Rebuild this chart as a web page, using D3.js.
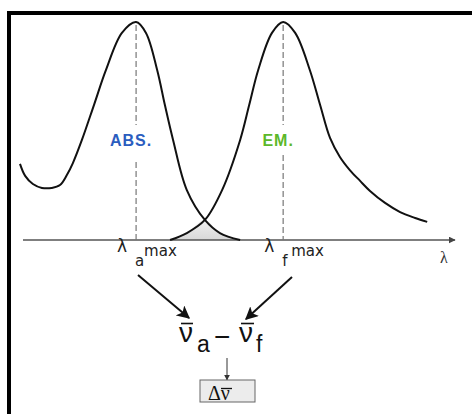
<!DOCTYPE html>
<html><head><meta charset="utf-8">
<script src="https://cdn.jsdelivr.net/npm/d3@7"></script>
<style>body{margin:0;background:#fff}svg{display:block}</style>
</head><body>
<script>
// Absorption spectrum (relative wavelength units, relative intensity)
const absLambda = [-0.7, 0.5, 2.3, 4.4, 6.7, 8.6, 10.2, 11.6, 13.7, 16.5, 19.3, 23.0, 26.3, 28.6, 31.2, 33.0, 34.9, 38.1, 42.3, 45.8, 50.5];
const absI      = [0.349, 0.294, 0.257, 0.239, 0.239, 0.252, 0.298, 0.353, 0.459, 0.619, 0.780, 0.950, 1.0, 0.950, 0.780, 0.619, 0.459, 0.229, 0.092, 0.032, 0.0];
// Emission spectrum
const emLambda = [34.2, 38.1, 42.3, 46.3, 50.5, 52.6, 54.7, 57.9, 60.5, 63.3, 66.7, 69.1, 71.4, 73.7, 76.0, 78.4, 80.7, 84.2, 87.7, 91.2, 94.0];
const emI      = [0.0, 0.032, 0.092, 0.229, 0.459, 0.619, 0.780, 0.950, 1.0, 0.950, 0.780, 0.619, 0.468, 0.381, 0.321, 0.271, 0.225, 0.170, 0.128, 0.101, 0.083];
// Peak positions and their labels
const peakLambda = [26.3, 60.5];
const peakSub = ["a", "f"];
const peakNames = ["ABS.", "EM."];
const peakColors = ["#2b5dbf", "#5cb82a"];

const W = 472, H = 414;
const svg = d3.select("body").append("svg").attr("width", W).attr("height", H);
const x = d3.scaleLinear().domain([0, 100]).range([23, 453]);
const y = d3.scaleLinear().domain([0, 1]).range([240, 22]);

svg.append("defs").html(
  '<marker id="ah" viewBox="0 0 10 10" refX="9" refY="5" markerWidth="7" markerHeight="7" markerUnits="userSpaceOnUse" orient="auto"><path d="M0,0L10,5L0,10z" fill="#444"/></marker>' +
  '<marker id="ab" viewBox="0 0 10 10" refX="9" refY="5" markerWidth="13" markerHeight="13" markerUnits="userSpaceOnUse" orient="auto"><path d="M0,0L10,5L0,10L2.5,5z" fill="#111"/></marker>' +
  '<marker id="as" viewBox="0 0 10 10" refX="9" refY="5" markerWidth="6" markerHeight="6" markerUnits="userSpaceOnUse" orient="auto"><path d="M0,0L10,5L0,10z" fill="#333"/></marker>' +
  '<linearGradient id="ov" x1="0" y1="0" x2="0" y2="1"><stop offset="0" stop-color="#f0f0f0"/><stop offset="1" stop-color="#d8d8d8"/></linearGradient>'
);

// frame
svg.append("rect").attr("x", 9).attr("y", 13).attr("width", 600).attr("height", 600)
  .attr("fill", "none").attr("stroke", "#000").attr("stroke-width", 4);

const absPts = absLambda.map((l, i) => [l, absI[i]]);
const emPts = emLambda.map((l, i) => [l, emI[i]]);

// overlap area: emission rising part up to crossing, then absorption falling part
const cross = 42.3;
const ovPts = emPts.filter(p => p[0] <= cross).concat(absPts.filter(p => p[0] > cross));
svg.append("path").datum(ovPts)
  .attr("d", d3.area().x(d => x(d[0])).y0(y(0)).y1(d => y(d[1])).curve(d3.curveCatmullRom))
  .attr("fill", "url(#ov)");

// axis
const axis = svg.append("g").attr("transform", `translate(0,${y(0)})`)
  .call(d3.axisBottom(x).tickValues([]).tickSizeOuter(0));
axis.select(".domain").attr("stroke", "#555").attr("stroke-width", 1.5)
  .attr("d", `M${x(0)},0H${x(100) + 2}`).attr("marker-end", "url(#ah)");

// dashed peak lines
const gaps = [[125, 162], [125, 155]];
peakLambda.forEach((p, i) => {
  [[y(1) + 3, gaps[i][0]], [gaps[i][1], y(0)]].forEach(seg => {
    svg.append("line").attr("x1", x(p)).attr("x2", x(p)).attr("y1", seg[0]).attr("y2", seg[1])
      .attr("stroke", "#777").attr("stroke-width", 1.2).attr("stroke-dasharray", "6,3");
  });
  svg.append("text").attr("x", x(p) - 5).attr("y", 146).attr("text-anchor", "middle")
    .attr("font-family", "Liberation Sans, Arial, sans-serif").attr("font-weight", "bold")
    .attr("font-size", 16).attr("letter-spacing", 1).attr("fill", peakColors[i]).text(peakNames[i]);
  // tick label lambda_sub^max
  const t = svg.append("text").attr("font-family", "DejaVu Sans, sans-serif").attr("fill", "#222");
  t.append("tspan").attr("x", x(p) - 19).attr("y", 252).attr("font-size", 17).text("λ");
  t.append("tspan").attr("x", x(p) - 1).attr("y", 266).attr("font-size", 15).text(peakSub[i]);
  t.append("tspan").attr("x", x(p) + 8).attr("y", 256).attr("font-size", 15).text("max");
});

// curves
const line = d3.line().x(d => x(d[0])).y(d => y(d[1])).curve(d3.curveCatmullRom);
[absPts, emPts].forEach(pts => {
  svg.append("path").datum(pts).attr("d", line).attr("fill", "none")
    .attr("stroke", "#111").attr("stroke-width", 2);
});

// lambda axis label
svg.append("text").attr("x", 440).attr("y", 263).attr("font-family", "Liberation Serif, serif")
  .attr("font-size", 16).attr("fill", "#333").text("λ");

// arrows to formula
svg.append("line").attr("x1", 138).attr("y1", 275).attr("x2", 189).attr("y2", 318)
  .attr("stroke", "#111").attr("stroke-width", 2).attr("marker-end", "url(#ab)");
svg.append("line").attr("x1", 292).attr("y1", 277).attr("x2", 246).attr("y2", 319)
  .attr("stroke", "#111").attr("stroke-width", 2).attr("marker-end", "url(#ab)");

// formula
const ff = "Liberation Sans, Arial, sans-serif";
const fg = svg.append("g").attr("font-family", ff).attr("fill", "#111");
fg.append("text").attr("x", 179).attr("y", 342).attr("font-size", 28).text("ν");
fg.append("text").attr("x", 197).attr("y", 352).attr("font-size", 23).text("a");
fg.append("text").attr("x", 214).attr("y", 346).attr("font-size", 28).text("−");
fg.append("text").attr("x", 239).attr("y", 342).attr("font-size", 28).text("ν");
fg.append("text").attr("x", 256).attr("y", 352).attr("font-size", 23).text("f");
[[181, 193], [241, 254]].forEach(b => {
  fg.append("line").attr("x1", b[0]).attr("x2", b[1]).attr("y1", 323.5).attr("y2", 323.5)
    .attr("stroke", "#111").attr("stroke-width", 1.6);
});

// small arrow and box
svg.append("line").attr("x1", 227).attr("y1", 358).attr("x2", 227).attr("y2", 380)
  .attr("stroke", "#333").attr("stroke-width", 1).attr("marker-end", "url(#as)");
svg.append("rect").attr("x", 200).attr("y", 380).attr("width", 55).attr("height", 22)
  .attr("fill", "#ececec").attr("stroke", "#666").attr("stroke-width", 1);
svg.append("text").attr("x", 208).attr("y", 400)
  .attr("font-family", "Liberation Serif, serif").attr("font-size", 20).attr("fill", "#111").text("Δν");
svg.append("line").attr("x1", 221).attr("x2", 232).attr("y1", 388.5).attr("y2", 388.5)
  .attr("stroke", "#111").attr("stroke-width", 1.3);
</script>
</body></html>
